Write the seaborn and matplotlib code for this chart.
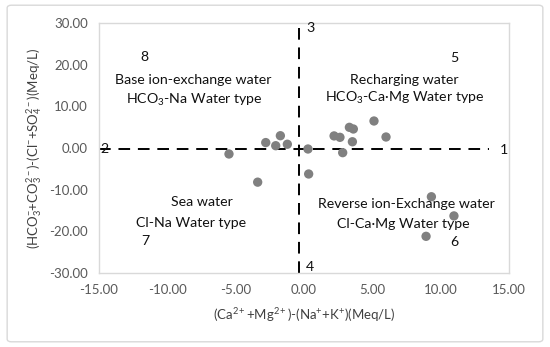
import matplotlib
matplotlib.use("Agg")
import matplotlib.pyplot as plt
import seaborn as sns
import pandas as pd
from matplotlib.patches import FancyBboxPatch

# sample points
x_vals = [-5.49, -3.39, -2.80, -2.07, -1.73, -1.22, 0.29, 0.34,
          2.20, 2.63, 3.32, 3.61, 3.54, 2.83, 5.12, 6.00,
          9.32, 10.97, 8.93]
y_vals = [-1.44, -8.20, 1.30, 0.55, 2.95, 0.90, -0.24, -6.24,
          2.90, 2.56, 4.96, 4.56, 1.50, -1.12, 6.48, 2.64,
          -11.70, -16.30, -21.20]

x_ticks = [-15, -10, -5, 0, 5, 10, 15]
y_ticks = [-30, -20, -10, 0, 10, 20, 30]

# divider lines
v_line_x = -0.37
h_line_y = -0.2

# zone labels: (x, y, text)
zone_labels = [
    (-11.7, 21.8, "8"),
    (-8.1, 16.3, "Base ion-exchange water"),
    (-8.0, 11.5, "HCO$_3$-Na Water type"),
    (10.98, 21.6, "5"),
    (7.3, 16.3, "Recharging water"),
    (7.35, 12.0, "HCO$_3$-Ca·Mg Water type"),
    (-7.46, -12.96, "Sea water"),
    (-8.3, -18.0, "Cl-Na Water type"),
    (-11.6, -22.3, "7"),
    (7.5, -13.4, "Reverse ion-Exchange water"),
    (7.3, -18.2, "Cl-Ca·Mg Water type"),
    (11.0, -22.6, "6"),
]
line_labels = [
    (14.6, -0.5, "1"),
    (-14.6, -0.3, "2"),
    (0.44, 28.8, "3"),
    (0.44, -28.6, "4"),
]

df = pd.DataFrame({"x": x_vals, "y": y_vals})

sns.set_style("white")
plt.rcParams["font.family"] = ["Lato", "DejaVu Sans"]
plt.rcParams["mathtext.fontset"] = "custom"
plt.rcParams["mathtext.rm"] = "Lato"
plt.rcParams["mathtext.it"] = "Lato:italic"
plt.rcParams["mathtext.bf"] = "Lato:bold"

fig = plt.figure(figsize=(5.5, 3.47), dpi=100)
fig.patches.append(FancyBboxPatch((0.013, 0.015), 0.974, 0.97, boxstyle="round,pad=0,rounding_size=0.008",
                                  transform=fig.transFigure, facecolor="none", edgecolor="#d9d9d9", lw=1))
ax = fig.add_axes([0.18, 0.2133, 0.7455, 0.7204])

ax.axvline(v_line_x, color="black", lw=1.4, ls=(0, (6, 4)), zorder=1)
ax.axhline(h_line_y, xmax=(13.5 + 15) / 30, color="black", lw=1.4, ls=(0, (6, 4)), zorder=1)

sns.scatterplot(data=df, x="x", y="y", ax=ax, color="#808080", s=45, edgecolor="none", zorder=3)

for x, y, t in zone_labels:
    ax.text(x, y, t, ha="center", va="center", fontsize=10.2, color="#111111")
for x, y, t in line_labels:
    ax.text(x, y, t, ha="center", va="center", fontsize=10.2, color="#111111")

ax.set_xlim(-15, 15)
ax.set_ylim(-30, 30)
ax.set_xticks(x_ticks)
ax.set_yticks(y_ticks)
ax.set_xticklabels([f"{v:.2f}" for v in x_ticks])
ax.set_yticklabels([f"{v:.2f}" for v in y_ticks])
ax.tick_params(colors="#595959", labelsize=9.5, length=0, pad=8)
for s in ax.spines.values():
    s.set_color("#d9d9d9")
    s.set_linewidth(1)

ax.set_xlabel(r"(Ca$^{2+}$+Mg$^{2+}$)-(Na$^{+}$+K$^{+}$)(Meq/L)", fontsize=9.5, color="#404040", labelpad=7)
ax.set_ylabel(r"(HCO$_3^{-}$+CO$_3^{2-}$)-(Cl$^{-}$+SO$_4^{2-}$)(Meq/L)", fontsize=9.5, color="#404040", labelpad=4)

fig.savefig("out.png", dpi=100)
